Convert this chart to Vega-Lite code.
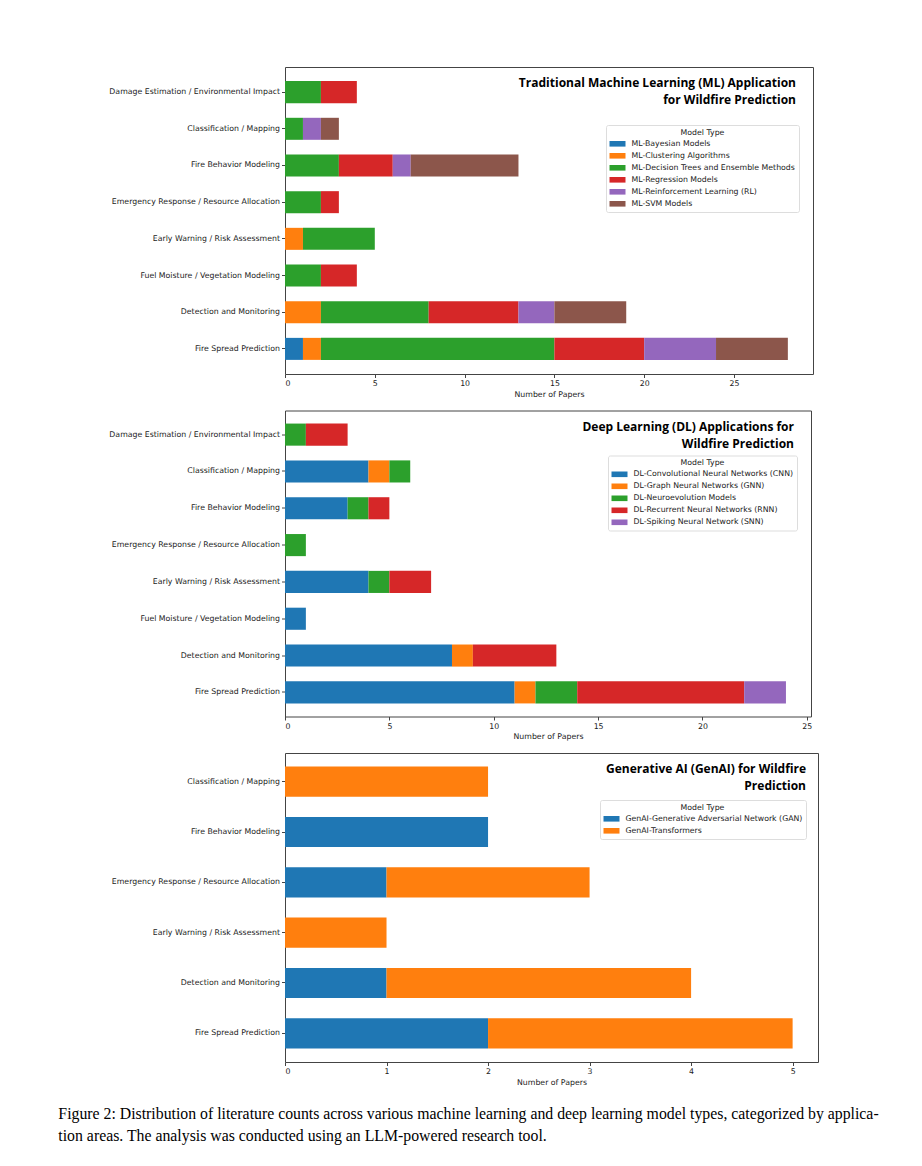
{
  "$schema": "https://vega.github.io/schema/vega-lite/v6.json",
  "background": "white",
  "padding": {"left": 58, "top": 66, "right": 5, "bottom": 5},
  "config": {
    "view": {"stroke": "#444", "strokeWidth": 1},
    "axis": {
      "grid": false, "domain": false, "tickColor": "#444", "tickSize": 3.5,
      "labelFont": "DejaVu Sans", "labelFontSize": 7.8, "labelColor": "#222", "labelPadding": 2,
      "titleFont": "DejaVu Sans", "titleFontSize": 7.8, "titleFontWeight": "normal", "titleColor": "#222", "titlePadding": 3
    },
    "axisY": {"labelLimit": 400},
    "legend": {
      "orient": "none",
      "titleFont": "DejaVu Sans", "titleFontSize": 7.8, "titleFontWeight": "normal", "titleColor": "#222", "titleAnchor": "middle", "titlePadding": -0.5,
      "labelFont": "DejaVu Sans", "labelFontSize": 7.8, "labelColor": "#222", "labelLimit": 400, "labelOffset": 6,
      "symbolType": "M-1,-0.35H1V0.35H-1Z", "symbolSize": 256, "symbolStrokeWidth": 0, "symbolOpacity": 1,
      "strokeColor": "#ddd", "fillColor": "white", "padding": 3.5, "rowPadding": -4, "cornerRadius": 2
    }
  },
  "title": {
    "text": [
      "Figure 2: Distribution of literature counts across various machine learning and deep learning model types, categorized by applica-",
      "tion areas. The analysis was conducted using an LLM-powered research tool."
    ],
    "orient": "bottom", "anchor": "start", "frame": "bounds",
    "font": "Liberation Serif", "fontSize": 15.8, "fontWeight": "normal", "color": "black",
    "lineHeight": 22, "offset": 20, "dx": -50
  },
  "datasets": {
    "ml": [
      {"app": "Damage Estimation / Environmental Impact", "model": "ML-Decision Trees and Ensemble Methods", "n": 2},
      {"app": "Damage Estimation / Environmental Impact", "model": "ML-Regression Models", "n": 2},
      {"app": "Classification / Mapping", "model": "ML-Decision Trees and Ensemble Methods", "n": 1},
      {"app": "Classification / Mapping", "model": "ML-Reinforcement Learning (RL)", "n": 1},
      {"app": "Classification / Mapping", "model": "ML-SVM Models", "n": 1},
      {"app": "Fire Behavior Modeling", "model": "ML-Decision Trees and Ensemble Methods", "n": 3},
      {"app": "Fire Behavior Modeling", "model": "ML-Regression Models", "n": 3},
      {"app": "Fire Behavior Modeling", "model": "ML-Reinforcement Learning (RL)", "n": 1},
      {"app": "Fire Behavior Modeling", "model": "ML-SVM Models", "n": 6},
      {"app": "Emergency Response / Resource Allocation", "model": "ML-Decision Trees and Ensemble Methods", "n": 2},
      {"app": "Emergency Response / Resource Allocation", "model": "ML-Regression Models", "n": 1},
      {"app": "Early Warning / Risk Assessment", "model": "ML-Clustering Algorithms", "n": 1},
      {"app": "Early Warning / Risk Assessment", "model": "ML-Decision Trees and Ensemble Methods", "n": 4},
      {"app": "Fuel Moisture / Vegetation Modeling", "model": "ML-Decision Trees and Ensemble Methods", "n": 2},
      {"app": "Fuel Moisture / Vegetation Modeling", "model": "ML-Regression Models", "n": 2},
      {"app": "Detection and Monitoring", "model": "ML-Clustering Algorithms", "n": 2},
      {"app": "Detection and Monitoring", "model": "ML-Decision Trees and Ensemble Methods", "n": 6},
      {"app": "Detection and Monitoring", "model": "ML-Regression Models", "n": 5},
      {"app": "Detection and Monitoring", "model": "ML-Reinforcement Learning (RL)", "n": 2},
      {"app": "Detection and Monitoring", "model": "ML-SVM Models", "n": 4},
      {"app": "Fire Spread Prediction", "model": "ML-Bayesian Models", "n": 1},
      {"app": "Fire Spread Prediction", "model": "ML-Clustering Algorithms", "n": 1},
      {"app": "Fire Spread Prediction", "model": "ML-Decision Trees and Ensemble Methods", "n": 13},
      {"app": "Fire Spread Prediction", "model": "ML-Regression Models", "n": 5},
      {"app": "Fire Spread Prediction", "model": "ML-Reinforcement Learning (RL)", "n": 4},
      {"app": "Fire Spread Prediction", "model": "ML-SVM Models", "n": 4}
    ],
    "dl": [
      {"app": "Damage Estimation / Environmental Impact", "model": "DL-Neuroevolution Models", "n": 1},
      {"app": "Damage Estimation / Environmental Impact", "model": "DL-Recurrent Neural Networks (RNN)", "n": 2},
      {"app": "Classification / Mapping", "model": "DL-Convolutional Neural Networks (CNN)", "n": 4},
      {"app": "Classification / Mapping", "model": "DL-Graph Neural Networks (GNN)", "n": 1},
      {"app": "Classification / Mapping", "model": "DL-Neuroevolution Models", "n": 1},
      {"app": "Fire Behavior Modeling", "model": "DL-Convolutional Neural Networks (CNN)", "n": 3},
      {"app": "Fire Behavior Modeling", "model": "DL-Neuroevolution Models", "n": 1},
      {"app": "Fire Behavior Modeling", "model": "DL-Recurrent Neural Networks (RNN)", "n": 1},
      {"app": "Emergency Response / Resource Allocation", "model": "DL-Neuroevolution Models", "n": 1},
      {"app": "Early Warning / Risk Assessment", "model": "DL-Convolutional Neural Networks (CNN)", "n": 4},
      {"app": "Early Warning / Risk Assessment", "model": "DL-Neuroevolution Models", "n": 1},
      {"app": "Early Warning / Risk Assessment", "model": "DL-Recurrent Neural Networks (RNN)", "n": 2},
      {"app": "Fuel Moisture / Vegetation Modeling", "model": "DL-Convolutional Neural Networks (CNN)", "n": 1},
      {"app": "Detection and Monitoring", "model": "DL-Convolutional Neural Networks (CNN)", "n": 8},
      {"app": "Detection and Monitoring", "model": "DL-Graph Neural Networks (GNN)", "n": 1},
      {"app": "Detection and Monitoring", "model": "DL-Recurrent Neural Networks (RNN)", "n": 4},
      {"app": "Fire Spread Prediction", "model": "DL-Convolutional Neural Networks (CNN)", "n": 11},
      {"app": "Fire Spread Prediction", "model": "DL-Graph Neural Networks (GNN)", "n": 1},
      {"app": "Fire Spread Prediction", "model": "DL-Neuroevolution Models", "n": 2},
      {"app": "Fire Spread Prediction", "model": "DL-Recurrent Neural Networks (RNN)", "n": 8},
      {"app": "Fire Spread Prediction", "model": "DL-Spiking Neural Network (SNN)", "n": 2}
    ],
    "gen": [
      {"app": "Classification / Mapping", "model": "GenAI-Transformers", "n": 2},
      {"app": "Fire Behavior Modeling", "model": "GenAI-Generative Adversarial Network (GAN)", "n": 2},
      {"app": "Emergency Response / Resource Allocation", "model": "GenAI-Generative Adversarial Network (GAN)", "n": 1},
      {"app": "Emergency Response / Resource Allocation", "model": "GenAI-Transformers", "n": 2},
      {"app": "Early Warning / Risk Assessment", "model": "GenAI-Transformers", "n": 1},
      {"app": "Detection and Monitoring", "model": "GenAI-Generative Adversarial Network (GAN)", "n": 1},
      {"app": "Detection and Monitoring", "model": "GenAI-Transformers", "n": 3},
      {"app": "Fire Spread Prediction", "model": "GenAI-Generative Adversarial Network (GAN)", "n": 2},
      {"app": "Fire Spread Prediction", "model": "GenAI-Transformers", "n": 3}
    ]
  },
  "spacing": 10.5,
  "resolve": {"scale": {"color": "independent", "x": "independent", "y": "independent"}, "legend": {"color": "independent"}},
  "vconcat": [
    {
      "width": 528, "height": 307,
      "data": {"name": "ml"},
      "title": {
        "text": ["Traditional Machine Learning (ML) Application", "for Wildfire Prediction"],
        "anchor": "end", "frame": "group", "orient": "top", "offset": -40, "dx": -17,
        "font": "Open Sans", "fontSize": 12, "fontWeight": "bold", "color": "black", "lineHeight": 17
      },
      "mark": {"type": "bar"},
      "encoding": {
        "y": {
          "field": "app", "type": "nominal",
          "sort": ["Damage Estimation / Environmental Impact", "Classification / Mapping", "Fire Behavior Modeling", "Emergency Response / Resource Allocation", "Early Warning / Risk Assessment", "Fuel Moisture / Vegetation Modeling", "Detection and Monitoring", "Fire Spread Prediction"],
          "scale": {"paddingInner": 0.4, "paddingOuter": 0.385},
          "axis": {"title": null}
        },
        "x": {
          "field": "n", "type": "quantitative", "aggregate": "sum",
          "scale": {"domain": [0, 29.4], "nice": false},
          "axis": {"title": "Number of Papers", "values": [0, 5, 10, 15, 20, 25]}
        },
        "color": {
          "field": "model", "type": "nominal",
          "scale": {
            "domain": ["ML-Bayesian Models", "ML-Clustering Algorithms", "ML-Decision Trees and Ensemble Methods", "ML-Regression Models", "ML-Reinforcement Learning (RL)", "ML-SVM Models"],
            "range": ["#1f77b4", "#ff7f0e", "#2ca02c", "#d62728", "#9467bd", "#8c564b"]
          },
          "legend": {"title": "Model Type", "legendX": 321, "legendY": 58}
        }
      }
    },
    {
      "width": 526, "height": 306,
      "data": {"name": "dl"},
      "title": {
        "text": ["Deep Learning (DL) Applications for", "Wildfire Prediction"],
        "anchor": "end", "frame": "group", "orient": "top", "offset": -40, "dx": -17,
        "font": "Open Sans", "fontSize": 12, "fontWeight": "bold", "color": "black", "lineHeight": 17
      },
      "mark": {"type": "bar"},
      "encoding": {
        "y": {
          "field": "app", "type": "nominal",
          "sort": ["Damage Estimation / Environmental Impact", "Classification / Mapping", "Fire Behavior Modeling", "Emergency Response / Resource Allocation", "Early Warning / Risk Assessment", "Fuel Moisture / Vegetation Modeling", "Detection and Monitoring", "Fire Spread Prediction"],
          "scale": {"paddingInner": 0.4, "paddingOuter": 0.355},
          "axis": {"title": null}
        },
        "x": {
          "field": "n", "type": "quantitative", "aggregate": "sum",
          "scale": {"domain": [0, 25.2], "nice": false},
          "axis": {"title": "Number of Papers", "values": [0, 5, 10, 15, 20, 25]}
        },
        "color": {
          "field": "model", "type": "nominal",
          "scale": {
            "domain": ["DL-Convolutional Neural Networks (CNN)", "DL-Graph Neural Networks (GNN)", "DL-Neuroevolution Models", "DL-Recurrent Neural Networks (RNN)", "DL-Spiking Neural Network (SNN)"],
            "range": ["#1f77b4", "#ff7f0e", "#2ca02c", "#d62728", "#9467bd"]
          },
          "legend": {"title": "Model Type", "legendX": 323, "legendY": 45}
        }
      }
    },
    {
      "width": 533, "height": 309,
      "data": {"name": "gen"},
      "title": {
        "text": ["Generative AI (GenAI) for Wildfire", "Prediction"],
        "anchor": "end", "frame": "group", "orient": "top", "offset": -40, "dx": -12,
        "font": "Open Sans", "fontSize": 12, "fontWeight": "bold", "color": "black", "lineHeight": 17
      },
      "mark": {"type": "bar"},
      "encoding": {
        "y": {
          "field": "app", "type": "nominal",
          "sort": ["Classification / Mapping", "Fire Behavior Modeling", "Emergency Response / Resource Allocation", "Early Warning / Risk Assessment", "Detection and Monitoring", "Fire Spread Prediction"],
          "scale": {"paddingInner": 0.4, "paddingOuter": 0.27},
          "axis": {"title": null}
        },
        "x": {
          "field": "n", "type": "quantitative", "aggregate": "sum",
          "scale": {"domain": [0, 5.25], "nice": false},
          "axis": {"title": "Number of Papers", "values": [0, 1, 2, 3, 4, 5]}
        },
        "color": {
          "field": "model", "type": "nominal",
          "scale": {
            "domain": ["GenAI-Generative Adversarial Network (GAN)", "GenAI-Transformers"],
            "range": ["#1f77b4", "#ff7f0e"]
          },
          "legend": {"title": "Model Type", "legendX": 315, "legendY": 47}
        }
      }
    }
  ]
}
